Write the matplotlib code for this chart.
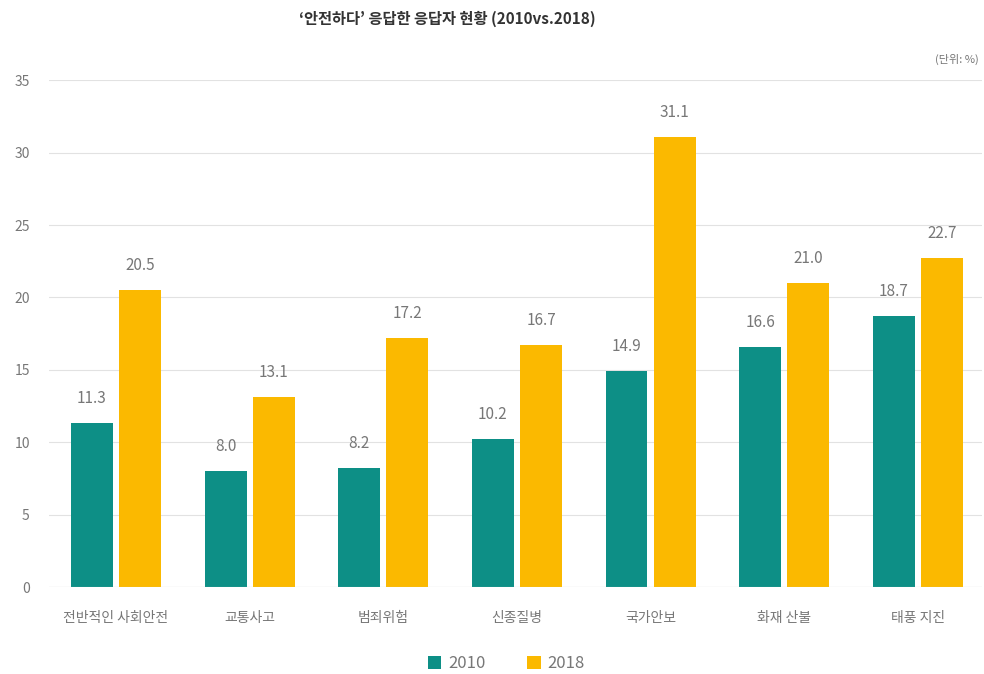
import matplotlib
matplotlib.use("Agg")
import matplotlib.pyplot as plt
import numpy as np

plt.rcParams['font.family'] = ['Noto Sans CJK KR', 'DejaVu Sans']

categories = ["전반적인 사회안전", "교통사고", "범죄위험", "신종질병", "국가안보", "화재 산불", "태풍 지진"]
v2010 = [11.3, 8.0, 8.2, 10.2, 14.9, 16.6, 18.7]
v2018 = [20.5, 13.1, 17.2, 16.7, 31.1, 21.0, 22.7]
yticks = [0, 5, 10, 15, 20, 25, 30, 35]

teal = "#0d8f86"
yellow = "#fbb900"
grey = "#777777"

fig = plt.figure(figsize=(9.84, 6.74), dpi=100)
ax = fig.add_axes([0.05, 0.129, 0.948, 0.752])

x = np.arange(len(categories))
w = 0.313
off = 0.18
ax.bar(x - off, v2010, w, color=teal, label="2010", zorder=3)
ax.bar(x + off, v2018, w, color=yellow, label="2018", zorder=3)

for xi, v in zip(x - off, v2010):
    ax.text(xi, v + 1.1, f"{v:.1f}", ha="center", va="bottom", fontsize=11, color=grey)
for xi, v in zip(x + off, v2018):
    ax.text(xi, v + 1.1, f"{v:.1f}", ha="center", va="bottom", fontsize=11, color=grey)

ax.set_xlim(-0.5, 6.48)
ax.set_ylim(0, 35)
ax.set_yticks(yticks)
ax.set_xticks(x)
ax.set_xticklabels(categories)
ax.tick_params(axis="both", length=0, labelsize=10, colors=grey)
ax.tick_params(axis="y", pad=14)
ax.tick_params(axis="x", pad=17)
ax.grid(axis="y", color="#e2e2e2", linewidth=0.8, zorder=0)
for s in ax.spines.values():
    s.set_visible(False)
ax.axhline(0, color="#cccccc", linewidth=0.8, zorder=4)

fig.text(0.455, 0.972, "‘안전하다’ 응답한 응답자 현황 (2010vs.2018)", ha="center", va="center",
         fontsize=11, fontweight="bold", color="#333333")
fig.text(0.995, 0.912, "(단위: %)", ha="right", va="center", fontsize=8, color=grey)

ax.legend(loc="upper center", bbox_to_anchor=(0.49, -0.105), ncol=2, frameon=False,
          fontsize=12, handlelength=0.8, handleheight=0.8, columnspacing=2.5,
          labelcolor=grey, handletextpad=0.4)

fig.savefig("out.png", dpi=100)
